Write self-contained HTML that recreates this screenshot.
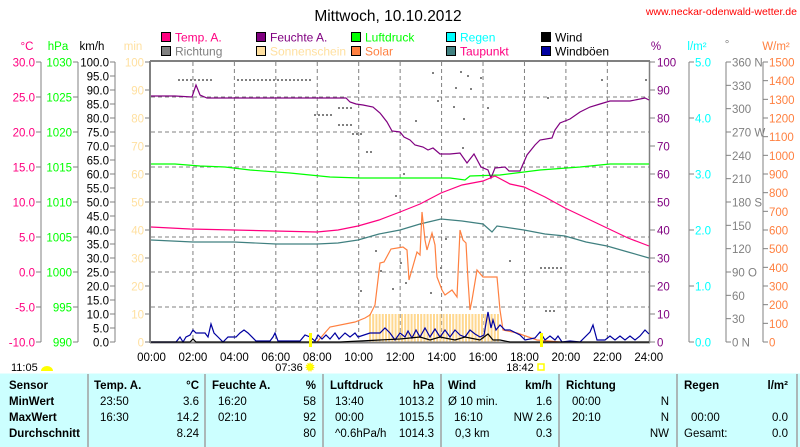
<!DOCTYPE html>
<html><head><meta charset="utf-8"><style>
html,body{margin:0;padding:0;background:#fff;}
svg{display:block;font-family:"Liberation Sans",sans-serif;}
</style></head><body>
<svg id="s" width="800" height="447" xmlns="http://www.w3.org/2000/svg"></svg>
<script>
const s=document.getElementById('s');let h='';
const X0=151.5,PX=20.72,YB=342;
const X=t=>X0+t*PX;
function T(x,y,t,c,a,sz,w){h+=`<text x="${x}" y="${y}" fill="${c}" font-size="${sz||11.5}" text-anchor="${a||'start'}"${w?' font-weight="bold"':''}>${t}</text>`;}
function L(x1,y1,x2,y2,c,w,d){h+=`<line x1="${x1}" y1="${y1}" x2="${x2}" y2="${y2}" stroke="${c}" stroke-width="${w||1}"${d?` stroke-dasharray="${d}"`:''}/>`;}
function P(pts,c,w){h+=`<polyline fill="none" stroke="${c}" stroke-width="${w||1.2}" points="${pts.map(p=>p.join(',')).join(' ')}"/>`;}
T(388,21,'Mittwoch, 10.10.2012','#000','middle',15.5);
T(797,15,'www.neckar-odenwald-wetter.de','#f00','end',10.5);
const lg=[[161,37,'#ff0080','Temp. A.','#ff0080'],[256,37,'#800080','Feuchte A.','#800080'],[351,37,'#00ff00','Luftdruck','#00ff00'],[446,37,'#00ffff','Regen','#00ffff'],[541,37,'#000','Wind','#000'],
[161,51,'#808080','Richtung','#808080'],[256,51,'#ffe0a0','Sonnenschein','#ffe0a0'],[351,51,'#ff8040','Solar','#ff8040'],[446,51,'#408080','Taupunkt','#ff0080'],[541,51,'#0000a0','Windböen','#000']];
lg.forEach(l=>{h+=`<rect x="${l[0]+0.5}" y="${l[1]-4.5}" width="9" height="9" fill="${l[2]}" stroke="#000"/>`;T(l[0]+14,l[1]+4.5,l[3],l[4],'start',12);});
T(27,50,'°C','#ff0080','middle');T(58,50,'hPa','#00ff00','middle');T(92,50,'km/h','#000','middle');T(133,50,'min','#ffe0a0','middle');
T(656,50,'%','#800080','middle');T(697,50,'l/m²','#00ffff','middle');T(727,48,'°','#808080','middle');T(776,50,'W/m²','#ff8040','middle');
const ax=(lx,vals,col,n)=>{L(lx,62,lx,342,'#808080');for(let i=0;i<=n;i++){const y=62+i*280/n;L(lx-5,y,lx,y,'#808080');T(lx-6,y+4.5,vals(i),col,'end');}};
ax(41,i=>(30-5*i).toFixed(1),'#ff0080',8);
ax(78,i=>1030-5*i,'#00ff00',8);
ax(115,i=>(100-5*i).toFixed(1),'#000',20);
for(let i=0;i<=10;i++){const y=62+i*28;L(145,y,150,y,'#808080');T(144,y+4.5,100-10*i,'#ffe0a0','end');}
for(let i=0;i<=10;i++){const y=62+i*28;L(650,y,655,y,'#808080');T(657,y+4.5,100-10*i,'#800080');}
L(689,62,689,342,'#808080');for(let i=0;i<=5;i++){const y=62+i*56;L(689,y,694,y,'#808080');T(695,y+4.5,(5-i).toFixed(1),'#00ffff');}
L(726,62,726,342,'#808080');const dl={0:'360 N',3:'270 W',6:'180 S',9:'90 O',12:'0 N'};for(let i=0;i<=12;i++){const y=62+i*280/12;L(726,y,731,y,'#808080');T(732,y+4.5,dl[i]||(360-30*i),'#808080');}
L(763,62,763,342,'#808080');for(let i=0;i<=15;i++){const y=62+i*280/15;L(763,y,768,y,'#808080');T(769,y+4.5,1500-100*i,'#ff8040');}
for(let i=1;i<8;i++)L(151,62+i*35,649,62+i*35,'#808080',1,'4,3');
for(let i=1;i<12;i++)L(X(2*i),62,X(2*i),342,'#808080',1,'4,3');
for(let x=369;x<498;x+=3.2)h+=`<rect x="${x}" y="314" width="2" height="28" fill="#ffd890"/>`;
const dots=[[178,79,210],[237,79,311],[314,114,330],[338,107,350],[338,124,350],[352,133,362],[366,151,372],[432,72],[437,100],[460,71],[467,75],[480,77],[455,87],[470,88],[453,106],[487,107],[463,118],[462,147],[403,173],[415,120],[395,195],[420,223],[547,97],[601,79],[645,79],[509,260],[540,267,560],[545,310,555],[360,290],[400,262],[405,282],[430,292],[440,267],[445,238],[392,288],[375,250],[380,270]];
dots.forEach(d=>{const x2=d[2]||d[0];for(let x=d[0];x<=x2;x+=4)h+=`<rect x="${x}" y="${d[1]}" width="2" height="2" fill="#808080"/>`;});
L(150,61,650,61,'#808080',2);L(150,61,150,343,'#808080',2);L(649.5,61,649.5,343,'#808080',1.5);L(150,342.5,650,342.5,'#808080',2);
P([[151,164],[175,164],[200,166],[225,167],[250,170],[290,173],[330,177],[360,178],[400,178],[450,178],[465,180],[470,176],[500,175],[540,170],[580,167],[610,164],[649,164]],'#00ff00');
P([[151,96],[175,96],[192,97],[196,85],[200,95],[207,98],[250,98],[346,98],[350,102],[356,104],[363,105],[373,107],[380,113],[387,122],[392,131],[400,132],[404,137],[410,140],[415,145],[423,147],[428,150],[433,148],[440,154],[450,154],[460,153],[467,163],[474,154],[481,167],[488,170],[491,178],[495,168],[505,167],[509,171],[520,171],[527,155],[535,145],[540,140],[552,138],[555,130],[560,123],[570,119],[580,112],[590,107],[600,104],[610,101],[630,101],[645,98],[649,100]],'#800080');
P([[151,227],[190,229],[234,230],[317,232],[338,230],[358,226],[379,220],[400,212],[420,204],[441,193],[462,185],[483,181],[495,176],[510,184],[524,187],[545,197],[565,208],[586,218],[607,228],[628,238],[649,246]],'#ff0080');
P([[151,240],[193,242],[234,242],[276,244],[317,244],[338,243],[358,240],[379,234],[400,230],[420,224],[441,219],[462,221],[483,224],[492,232],[497,226],[524,230],[545,234],[565,236],[586,242],[607,246],[628,252],[649,258]],'#408080');
P([[317,342],[330,327],[355,322],[365,318],[370,315],[375,305],[380,263],[384,262],[391,249],[403,247],[407,250],[409,280],[417,252],[420,255],[422,212],[425,240],[427,250],[432,233],[435,245],[437,277],[442,290],[445,295],[452,290],[457,297],[460,230],[463,240],[466,243],[468,280],[470,310],[472,300],[477,270],[483,277],[497,277],[500,310],[503,330],[517,333],[537,340],[560,342]],'#ff8040');
P([[151,342],[176,342],[180,337],[183,342],[186,337],[190,335],[193,330],[196,333],[205,333],[208,337],[211,324],[214,333],[218,337],[223,342],[228,337],[236,337],[240,333],[244,330],[248,333],[256,341],[270,341],[273,337],[275,333],[278,341],[300,341],[305,335],[310,337],[315,341],[318,335],[322,339],[326,335],[330,339],[335,333],[339,339],[345,333],[350,337],[355,333],[358,337],[370,333],[380,333],[385,328],[390,333],[395,340],[400,333],[405,337],[408,331],[412,338],[416,330],[420,337],[425,328],[430,337],[435,329],[440,337],[445,330],[450,337],[455,330],[460,335],[465,337],[470,330],[475,334],[480,337],[484,335],[488,312],[491,328],[493,320],[496,330],[500,325],[505,330],[510,330],[520,335],[525,340],[535,338],[540,332],[545,340],[550,336],[555,340],[558,336],[562,342],[570,341],[580,342],[590,332],[593,325],[597,340],[605,340],[610,336],[615,340],[620,336],[625,340],[630,336],[635,340],[640,336],[645,330],[649,334]],'#0000a0');
P([[151,342],[190,342],[193,339],[196,342],[310,342],[340,342],[360,341],[380,340],[400,339],[420,337],[430,340],[440,337],[455,340],[465,337],[480,340],[488,334],[493,340],[500,340],[510,342],[649,342]],'#000',1.2);
h+=`<rect x="309" y="333" width="3" height="14" fill="#ffff00"/><rect x="540" y="333" width="3" height="14" fill="#ffff00"/>`;
for(let i=0;i<=12;i++)T(X(2*i),361,String(2*i).padStart(2,'0')+':00','#000','middle');
T(11,371,'11:05','#000','start',11);h+=`<path d="M41 371 a6 5 0 0 1 12 0 z" fill="#ffff00"/>`;
T(289,371,'07:36','#000','middle',11);h+=`<circle cx="310" cy="367" r="3.5" fill="#ffff00" stroke="#ffee00" stroke-width="2" stroke-dasharray="1,1"/>`;
T(520,371,'18:42','#000','middle',11);h+=`<rect x="538" y="364" width="6" height="6" fill="none" stroke="#ffff00" stroke-width="1.5"/>`;
h+=`<rect x="0" y="373.5" width="800" height="74" fill="#ccffff"/>`;
[88,205,323,441,559,677,797].forEach(x=>L(x,374,x,447,'#a0a0a0',1.5));
const r=[389,405,421,437];
['Sensor','MinWert','MaxWert','Durchschnitt'].forEach((t,i)=>T(9,r[i],t,'#000','start',11.5,1));
T(94,r[0],'Temp. A.','#000','start',11.5,1);T(199,r[0],'°C','#000','end',11.5,1);
T(212,r[0],'Feuchte A.','#000','start',11.5,1);T(316,r[0],'%','#000','end',11.5,1);
T(330,r[0],'Luftdruck','#000','start',11.5,1);T(434,r[0],'hPa','#000','end',11.5,1);
T(448,r[0],'Wind','#000','start',11.5,1);T(552,r[0],'km/h','#000','end',11.5,1);
T(566,r[0],'Richtung','#000','start',11.5,1);
T(684,r[0],'Regen','#000','start',11.5,1);T(788,r[0],'l/m²','#000','end',11.5,1);
const cells=[[100,199,['23:50','16:30',''],['3.6','14.2','8.24']],[218,316,['16:20','02:10',''],['58','92','80']],[335,434,['13:40','00:00','^0.6hPa/h'],['1013.2','1015.5','1014.3']],[448,552,['Ø 10 min.','16:10','0,3 km'],['1.6','NW 2.6','0.3']],[572,669,['00:00','20:10',''],['N','N','NW']],[684,788,['','00:00','Gesamt:'],['','0.0','0.0']]];
const ind={448:[0,6,7],684:[0,7,0]};
cells.forEach(c=>{for(let i=0;i<3;i++){const dx=ind[c[0]]?ind[c[0]][i]:0;T(c[0]+dx,r[i+1],c[2][i],'#000','start',11.5);T(c[1],r[i+1],c[3][i],'#000','end',11.5);}});
s.innerHTML=h;
</script>
</body></html>
